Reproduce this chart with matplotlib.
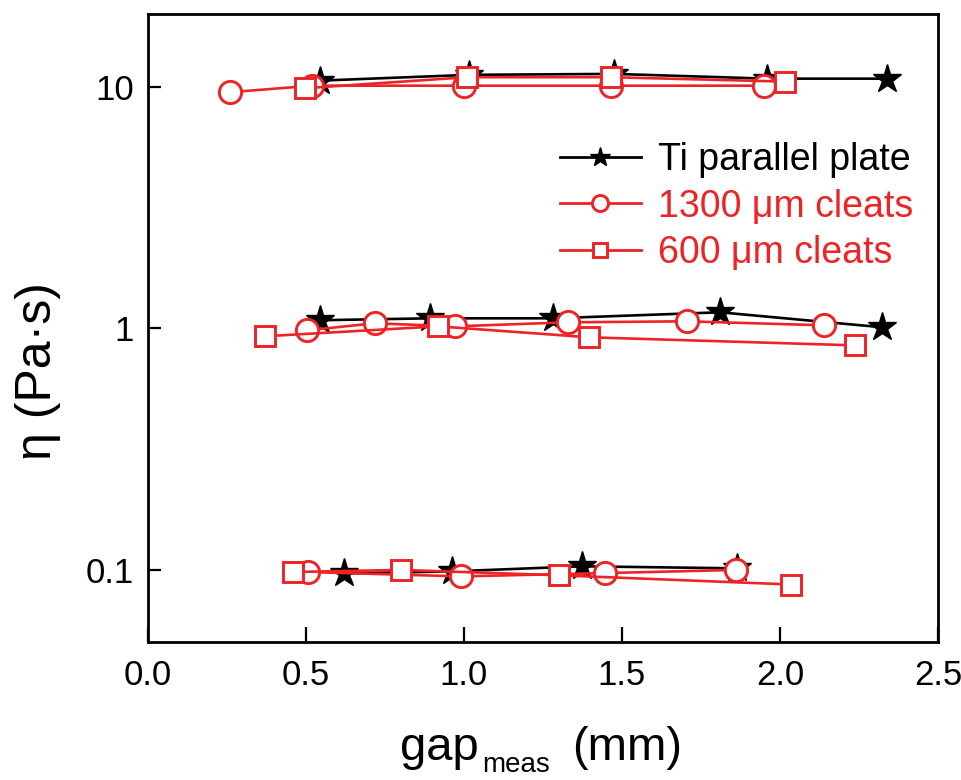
import matplotlib
matplotlib.use("Agg")
import matplotlib.pyplot as plt
from matplotlib.ticker import FixedLocator, FixedFormatter, NullLocator

plt.rcParams['font.family'] = ['Liberation Sans', 'DejaVu Sans']

RED = '#EE2326'

# Ti parallel plate (stars), three viscosity levels
ti_x = [[0.545, 1.016, 1.475, 1.96, 2.34],
        [0.544, 0.892, 1.282, 1.81, 2.323],
        [0.62, 0.962, 1.373, 1.864]]
ti_y = [[10.6, 11.2, 11.3, 10.8, 10.8],
        [1.08, 1.10, 1.10, 1.165, 1.01],
        [0.0967, 0.0986, 0.1035, 0.1015]]

# 1300 um cleats (circles)
c13_x = [[0.26, 0.52, 1.0, 1.465, 1.95],
         [0.503, 0.718, 0.972, 1.33, 1.706, 2.14],
         [0.506, 0.99, 1.446, 1.86]]
c13_y = [[9.49, 10.1, 10.1, 10.1, 10.1],
         [0.981, 1.049, 1.019, 1.059, 1.069, 1.029],
         [0.098, 0.094, 0.097, 0.100]]

# 600 um cleats (squares)
c6_x = [[0.497, 1.01, 1.465, 2.016],
        [0.37, 0.918, 1.396, 2.237],
        [0.46, 0.80, 1.30, 2.035]]
c6_y = [[9.86, 10.95, 10.95, 10.5],
        [0.927, 1.019, 0.918, 0.85],
        [0.098, 0.100, 0.095, 0.087]]

x_ticks = [0.0, 0.5, 1.0, 1.5, 2.0, 2.5]
x_ticklabels = ['0.0', '0.5', '1.0', '1.5', '2.0', '2.5']
y_ticks = [0.1, 1, 10]
y_ticklabels = ['0.1', '1', '10']

W, H = 962, 780
fig = plt.figure(figsize=(W / 100, H / 100), dpi=100)
ax = fig.add_axes([148 / W, 1 - 642 / H, 790 / W, 628 / H])

for i, (xs, ys) in enumerate(zip(ti_x, ti_y)):
    ax.plot(xs, ys, color='black', lw=1.9, marker='*', ms=21, mfc='black', mec='black',
            label='Ti parallel plate' if i == 0 else None, zorder=2)
for i, (xs, ys) in enumerate(zip(c13_x, c13_y)):
    ax.plot(xs, ys, color=RED, lw=1.9, marker='o', ms=16, mfc='white', mec=RED, mew=2.1,
            label='1300 \u03bcm cleats' if i == 0 else None, zorder=3)
for i, (xs, ys) in enumerate(zip(c6_x, c6_y)):
    ax.plot(xs, ys, color=RED, lw=1.9, marker='s', ms=14.5, mfc='white', mec=RED, mew=2.1,
            label='600 \u03bcm cleats' if i == 0 else None, zorder=4)

ax.set_yscale('log')
ax.set_xlim(0, 2.5)
ax.set_ylim(0.0503, 20.0)
ax.set_xticks(x_ticks)
ax.set_xticklabels(x_ticklabels)
ax.yaxis.set_major_locator(FixedLocator(y_ticks))
ax.yaxis.set_major_formatter(FixedFormatter(y_ticklabels))
ax.yaxis.set_minor_locator(NullLocator())
ax.tick_params(axis='both', which='major', direction='in', width=1.6,
               labelsize=25, top=False, right=False)
ax.tick_params(axis='x', length=11, pad=12)
ax.tick_params(axis='y', length=9, pad=10)
for s in ax.spines.values():
    s.set_linewidth(2.0)

# x label built from pieces: gap + subscript meas + (mm)
fig.text(400 / W, 1 - 760 / H, 'gap', fontsize=34, ha='left', va='baseline')
fig.text(482 / W, 1 - 772 / H, 'meas', fontsize=20, ha='left', va='baseline')
fig.text(682 / W, 1 - 760 / H, '(mm)', fontsize=34, ha='right', va='baseline')

# y label
fig.text(38 / W, 1 - 371 / H, '\u03b7 (Pa\u00b7s)', fontsize=36, rotation=90,
         ha='center', va='center')

leg = ax.legend(loc='upper left', bbox_to_anchor=((560 - 148) / 790, (642 - 142) / 628),
                frameon=False, fontsize=27, handlelength=2.15, handletextpad=0.45,
                labelspacing=0.28, markerscale=0.72, borderpad=0, borderaxespad=0)
for t, c in zip(leg.get_texts(), ['black', RED, RED]):
    t.set_color(c)
for ln in leg.get_lines():
    ln.set_linewidth(2.0)

fig.savefig('out.png', dpi=100)
